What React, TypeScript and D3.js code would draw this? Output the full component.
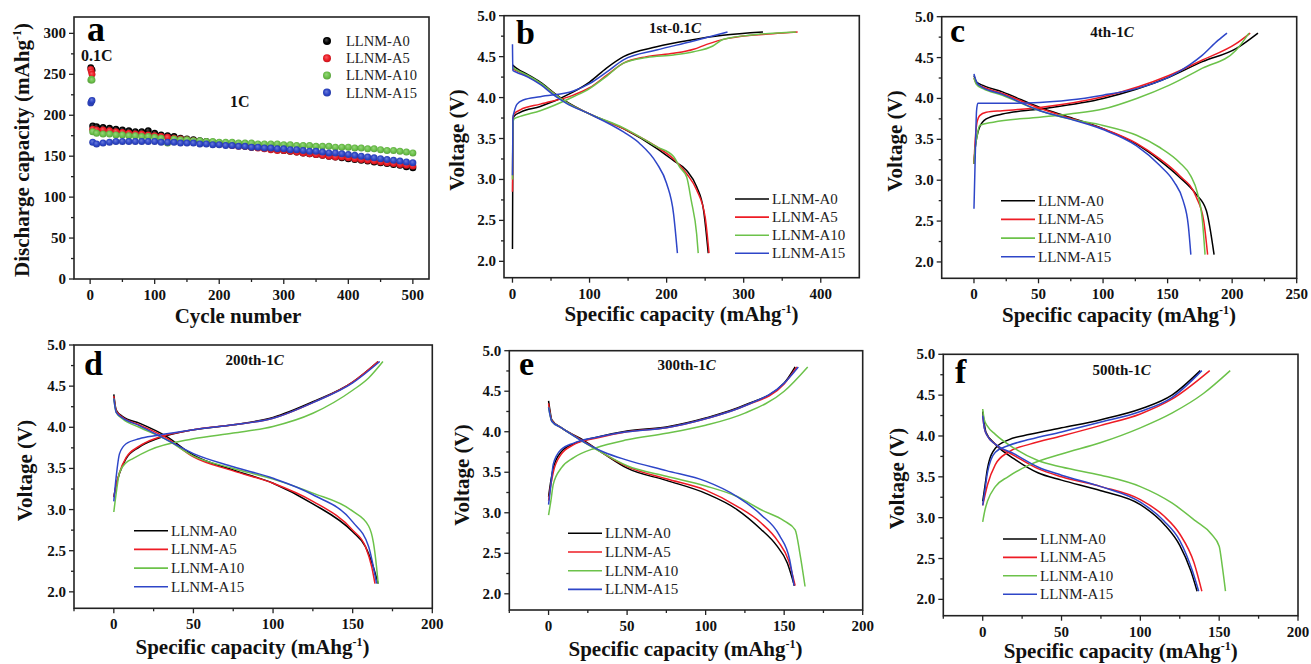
import React from 'react';
import * as d3 from 'd3';

const FONT = '"Liberation Serif","Times New Roman",serif';
const SERIES = ['LLNM-A0', 'LLNM-A5', 'LLNM-A10', 'LLNM-A15'];
const COLORS = ['#000000', '#ee1c25', '#6cc24a', '#2e46c8'];

// ---------- Panel a: cycling data ----------
const cycles01C = [1, 2, 3];
const first01C_A0 = [258, 256, 255];
const first01C_A5 = [256, 253, 250];
const first01C_A10 = [243, 244, 243];
const first01C_A15 = [215, 217, 218];

const cycles1C = [4, 10, 20, 30, 40, 50, 60, 70, 80, 90, 100, 110, 120, 130, 140, 150, 160, 170, 180, 190, 200,
  210, 220, 230, 240, 250, 260, 270, 280, 290, 300, 310, 320, 330, 340, 350, 360, 370, 380, 390, 400,
  410, 420, 430, 440, 450, 460, 470, 480, 490, 500];
const cap1C_A0 = [187, 186, 185, 184, 183, 182, 181, 180, 180, 181, 178, 176, 175, 174, 172, 171, 170, 169, 168, 167, 166,
  165, 164, 163, 162, 161, 161, 160, 159, 158, 157, 156, 155, 154, 153, 152, 151, 150, 149, 148, 147,
  146, 145, 144, 143, 142, 141, 140, 139, 137, 136];
const cap1C_A5 = [183, 182, 182, 181, 180, 179, 178, 177, 177, 176, 175, 174, 173, 172, 171, 170, 169, 168, 167, 166, 165,
  164, 163, 162, 162, 161, 160, 159, 158, 157, 157, 156, 155, 154, 153, 152, 151, 150, 149, 149, 148,
  147, 146, 145, 144, 143, 142, 141, 140, 139, 138];
const cap1C_A10 = [180, 178, 177, 177, 176, 176, 175, 175, 174, 174, 173, 172, 166, 171, 170, 170, 169, 169, 168, 168, 167,
  167, 167, 166, 166, 166, 165, 165, 165, 165, 164, 164, 163, 163, 163, 162, 162, 162, 161, 161, 161,
  160, 160, 159, 159, 158, 157, 157, 156, 155, 154];
const cap1C_A15 = [167, 165, 166, 167, 168, 168, 168, 168, 168, 168, 168, 167, 167, 167, 166, 166, 166, 165, 165, 164, 164,
  163, 163, 162, 162, 161, 161, 160, 160, 159, 159, 158, 158, 157, 156, 156, 155, 154, 154, 153, 152,
  151, 150, 149, 148, 147, 146, 145, 144, 143, 142];

// ---------- Panels b-f: [capacity, voltage] ----------
const chargeB = [
  [[0, 2.15], [0.6, 3.72], [2, 3.77], [10, 3.82], [36, 3.89], [79, 4.07], [100, 4.19], [122, 4.36], [144, 4.5], [187, 4.62], [230, 4.7], [273, 4.76], [325, 4.8]],
  [[0, 2.85], [0.6, 3.74], [2, 3.8], [10, 3.85], [36, 3.92], [79, 4.03], [100, 4.12], [122, 4.27], [144, 4.42], [174, 4.5], [209, 4.54], [235, 4.59], [252, 4.65], [278, 4.72], [338, 4.78], [370, 4.8]],
  [[0, 3.0], [0.6, 3.68], [2, 3.74], [10, 3.77], [36, 3.84], [79, 4.01], [100, 4.11], [122, 4.26], [144, 4.42], [174, 4.49], [209, 4.52], [235, 4.56], [260, 4.63], [273, 4.71], [317, 4.77], [368, 4.8]],
  [[0, 3.05], [0.6, 3.76], [2, 3.82], [6, 3.92], [14, 3.97], [36, 4.01], [79, 4.08], [100, 4.17], [122, 4.31], [144, 4.46], [187, 4.58], [230, 4.68], [279, 4.8]],
];
const dischargeB = [
  [[0, 4.4], [5, 4.36], [20, 4.28], [36, 4.19], [55, 4.05], [70, 3.95], [100, 3.8], [144, 3.62], [187, 3.38], [209, 3.23], [226, 3.11], [239, 2.91], [248, 2.62], [254, 2.1]],
  [[0, 4.35], [5, 4.33], [20, 4.26], [36, 4.17], [55, 4.04], [70, 3.94], [100, 3.8], [144, 3.62], [187, 3.4], [209, 3.25], [226, 3.07], [239, 2.87], [250, 2.54], [255, 2.1]],
  [[0, 4.37], [5, 4.34], [20, 4.27], [36, 4.18], [55, 4.04], [70, 3.94], [100, 3.8], [144, 3.63], [187, 3.4], [209, 3.28], [217, 3.15], [226, 3.03], [232, 2.74], [239, 2.33], [241, 2.1]],
  [[0, 4.65], [0.5, 4.33], [5, 4.31], [20, 4.25], [36, 4.16], [55, 4.02], [70, 3.93], [100, 3.8], [144, 3.58], [165, 3.44], [187, 3.2], [200, 2.95], [209, 2.58], [214, 2.1]],
];
const chargeC = [
  [[0, 3.2], [1, 3.4], [2.5, 3.55], [4.4, 3.65], [9.5, 3.75], [22, 3.81], [51, 3.87], [100, 4.0], [151, 4.26], [177, 4.45], [203, 4.61], [220, 4.8]],
  [[0, 3.2], [1, 3.5], [2.5, 3.72], [4.4, 3.79], [9.5, 3.83], [22, 3.85], [51, 3.89], [100, 4.02], [151, 4.28], [177, 4.47], [203, 4.67], [214, 4.8]],
  [[0, 3.2], [1, 3.4], [2.5, 3.55], [4.4, 3.67], [15, 3.71], [51, 3.77], [74, 3.81], [100, 3.87], [126, 4.0], [151, 4.16], [177, 4.37], [203, 4.59], [213, 4.8]],
  [[0, 2.65], [1, 3.3], [2, 3.85], [3, 3.94], [20, 3.94], [51, 3.95], [74, 3.98], [100, 4.04], [126, 4.12], [151, 4.26], [167, 4.41], [177, 4.53], [189, 4.71], [196, 4.8]],
];
const dischargeC = [
  [[0, 4.28], [2, 4.2], [7, 4.16], [22, 4.08], [51, 3.89], [74, 3.77], [100, 3.63], [126, 3.44], [144, 3.24], [159, 3.04], [172, 2.83], [180, 2.63], [186, 2.09]],
  [[0, 4.25], [2, 4.18], [7, 4.14], [22, 4.06], [51, 3.88], [74, 3.76], [100, 3.63], [126, 3.45], [144, 3.26], [159, 3.06], [172, 2.8], [178, 2.5], [181, 2.09]],
  [[0, 4.25], [2, 4.17], [7, 4.12], [22, 4.04], [51, 3.85], [74, 3.75], [100, 3.67], [126, 3.55], [144, 3.4], [159, 3.22], [168, 3.05], [173, 2.85], [177, 2.5], [179, 2.09]],
  [[0, 4.3], [2, 4.2], [5, 4.15], [22, 4.05], [51, 3.85], [74, 3.75], [100, 3.62], [126, 3.42], [144, 3.18], [155, 2.98], [162, 2.75], [166, 2.45], [168, 2.09]],
];
const chargeD = [
  [[0, 3.15], [1.5, 3.3], [3.6, 3.44], [7.7, 3.62], [16, 3.76], [27, 3.86], [50, 3.97], [75, 4.03], [100, 4.12], [125, 4.31], [150, 4.55], [166, 4.8]],
  [[0, 3.15], [1.5, 3.3], [3.6, 3.45], [7.7, 3.63], [16, 3.77], [27, 3.87], [50, 3.97], [75, 4.03], [100, 4.11], [125, 4.3], [150, 4.55], [166, 4.8]],
  [[0, 2.97], [1.5, 3.2], [3.6, 3.45], [7.7, 3.57], [12, 3.62], [22, 3.72], [50, 3.86], [75, 3.93], [100, 4.01], [125, 4.17], [150, 4.45], [160, 4.6], [169, 4.8]],
  [[0, 3.1], [1.5, 3.4], [3.6, 3.68], [7.7, 3.8], [16, 3.86], [27, 3.9], [50, 3.97], [75, 4.03], [100, 4.11], [125, 4.3], [150, 4.54], [167, 4.8]],
];
const dischargeD = [
  [[0, 4.4], [1.5, 4.21], [5.6, 4.13], [16, 4.05], [33, 3.89], [50, 3.66], [75, 3.48], [100, 3.32], [125, 3.07], [150, 2.73], [158, 2.55], [163, 2.3], [166, 2.1]],
  [[0, 4.38], [1.5, 4.2], [5.6, 4.12], [16, 4.03], [33, 3.87], [50, 3.64], [75, 3.47], [100, 3.32], [125, 3.1], [150, 2.75], [158, 2.55], [162, 2.3], [164, 2.1]],
  [[0, 4.35], [1.5, 4.18], [5.6, 4.1], [16, 4.0], [33, 3.85], [50, 3.65], [75, 3.5], [100, 3.37], [125, 3.2], [150, 2.98], [160, 2.8], [163, 2.6], [165, 2.3], [166, 2.1]],
  [[0, 4.35], [1.5, 4.18], [5, 4.12], [16, 4.02], [33, 3.85], [50, 3.68], [75, 3.52], [100, 3.38], [125, 3.18], [150, 2.85], [160, 2.55], [165, 2.1]],
];
const chargeE = [
  [[0, 3.2], [1.5, 3.4], [3, 3.55], [8, 3.75], [16, 3.85], [30, 3.93], [50, 4.01], [75, 4.06], [100, 4.17], [125, 4.33], [150, 4.6], [157, 4.8]],
  [[0, 3.15], [1.5, 3.35], [3, 3.5], [8, 3.72], [16, 3.84], [30, 3.92], [50, 4.0], [75, 4.05], [100, 4.16], [125, 4.32], [150, 4.59], [158, 4.8]],
  [[0, 2.97], [1.5, 3.15], [3, 3.35], [8, 3.55], [16, 3.68], [30, 3.8], [50, 3.9], [75, 3.98], [100, 4.08], [125, 4.23], [150, 4.5], [165, 4.8]],
  [[0, 3.1], [1.5, 3.35], [3, 3.6], [8, 3.78], [16, 3.86], [30, 3.93], [50, 4.0], [75, 4.05], [100, 4.16], [125, 4.32], [150, 4.6], [159, 4.8]],
];
const dischargeE = [
  [[0, 4.38], [1, 4.25], [2, 4.15], [8, 4.05], [20, 3.92], [35, 3.73], [50, 3.55], [75, 3.4], [100, 3.24], [120, 3.04], [135, 2.8], [145, 2.6], [152, 2.38], [156.5, 2.1]],
  [[0, 4.35], [1, 4.22], [2, 4.14], [8, 4.05], [20, 3.91], [35, 3.73], [50, 3.57], [75, 3.42], [100, 3.28], [120, 3.08], [135, 2.88], [146, 2.65], [153, 2.4], [157, 2.1]],
  [[0, 4.3], [1, 4.2], [2, 4.13], [8, 4.05], [20, 3.9], [35, 3.73], [50, 3.58], [75, 3.45], [100, 3.33], [120, 3.2], [135, 3.04], [150, 2.9], [157, 2.79], [160, 2.5], [163.3, 2.09]],
  [[0, 4.3], [1, 4.2], [2, 4.13], [8, 4.05], [20, 3.9], [35, 3.75], [50, 3.65], [75, 3.52], [100, 3.39], [120, 3.2], [135, 2.98], [147, 2.72], [153.5, 2.42], [156.3, 2.1]],
];
const chargeF = [
  [[0, 3.2], [1.5, 3.4], [3, 3.6], [8, 3.85], [16, 3.95], [30, 4.02], [50, 4.1], [75, 4.2], [100, 4.33], [120, 4.5], [138, 4.8]],
  [[0, 3.15], [1.5, 3.28], [3, 3.4], [8, 3.65], [16, 3.8], [30, 3.9], [50, 4.0], [75, 4.13], [100, 4.27], [120, 4.45], [144, 4.8]],
  [[0, 2.95], [1.5, 3.1], [3, 3.2], [8, 3.38], [16, 3.5], [30, 3.65], [50, 3.78], [75, 3.92], [100, 4.1], [120, 4.28], [140, 4.52], [157, 4.8]],
  [[0, 3.15], [1.5, 3.35], [3, 3.55], [8, 3.8], [16, 3.88], [30, 3.96], [50, 4.05], [75, 4.17], [100, 4.3], [120, 4.47], [139, 4.8]],
];
const dischargeF = [
  [[0, 4.3], [1, 4.15], [2, 4.05], [8, 3.9], [20, 3.72], [35, 3.55], [50, 3.46], [75, 3.33], [100, 3.16], [115, 2.92], [125, 2.66], [132, 2.35], [136, 2.1]],
  [[0, 4.25], [1, 4.1], [3, 4.0], [8, 3.9], [20, 3.76], [35, 3.6], [50, 3.5], [75, 3.38], [100, 3.22], [115, 3.02], [125, 2.8], [134, 2.45], [139, 2.1]],
  [[0, 4.33], [1, 4.2], [3, 4.12], [8, 4.02], [20, 3.85], [35, 3.7], [50, 3.62], [75, 3.52], [100, 3.38], [120, 3.18], [135, 2.96], [145, 2.8], [150, 2.65], [152, 2.4], [154, 2.1]],
  [[0, 4.25], [1, 4.1], [3, 4.0], [8, 3.9], [20, 3.78], [35, 3.62], [50, 3.52], [75, 3.38], [100, 3.19], [115, 2.96], [125, 2.72], [133, 2.35], [137, 2.1]],
];

// tick values
const yTicksV = [2.0, 2.5, 3.0, 3.5, 4.0, 4.5, 5.0];
const yMinorV = [2.25, 2.75, 3.25, 3.75, 4.25, 4.75];
const xTicksA = [0, 100, 200, 300, 400, 500];
const xMinorA = [50, 150, 250, 350, 450];
const yTicksA = [0, 50, 100, 150, 200, 250, 300];
const yMinorA = [25, 75, 125, 175, 225, 275];
const xTicksB = [0, 100, 200, 300, 400];
const xMinorB = [50, 150, 250, 350];
const xTicksC = [0, 50, 100, 150, 200, 250];
const xMinorC = [25, 75, 125, 175, 225];
const xTicks200 = [0, 50, 100, 150, 200];
const xMinor200 = [-25, 25, 75, 125, 175];

type Box = { l: number; t: number; r: number; b: number };

const AX = '#222';

function Frame(props: any) {
  const { box, x, y, xMajor, xMinor, yMajor, yMinor, yFmt, xTitle, xTitleX, xTitleY, yTitle, yTitleX, yTitleY } = props;
  const tickStyle = { stroke: AX, strokeWidth: 1.3 };
  return (
    <g>
      {xMajor.map((v: number) => (
        <g key={'xM' + v}>
          <line x1={x(v)} x2={x(v)} y1={box.b} y2={box.b + 5} {...tickStyle} />
          <text x={x(v)} y={box.b + 21} textAnchor="middle" fontFamily={FONT} fontWeight="bold" fontSize={15} fill="#111">{v}</text>
        </g>
      ))}
      {xMinor.map((v: number) => (
        <line key={'xm' + v} x1={x(v)} x2={x(v)} y1={box.b} y2={box.b + 3} {...tickStyle} />
      ))}
      {yMajor.map((v: number) => (
        <g key={'yM' + v}>
          <line x1={box.l - 5} x2={box.l} y1={y(v)} y2={y(v)} {...tickStyle} />
          <text x={box.l - 8} y={y(v) + 5} textAnchor="end" fontFamily={FONT} fontWeight="bold" fontSize={15} fill="#111">{yFmt(v)}</text>
        </g>
      ))}
      {yMinor.map((v: number) => (
        <line key={'ym' + v} x1={box.l - 3} x2={box.l} y1={y(v)} y2={y(v)} {...tickStyle} />
      ))}
      <text x={xTitleX} y={xTitleY} textAnchor="middle" fontFamily={FONT} fontWeight="bold" fontSize={21} fill="#111">
        {xTitle}
      </text>
      <text transform={`translate(${yTitleX},${yTitleY}) rotate(-90)`} textAnchor="middle" fontFamily={FONT} fontWeight="bold" fontSize={21} fill="#111">
        {yTitle}
      </text>
    </g>
  );
}

const capTitle = (
  <>
    Specific capacity (mAhg<tspan dy={-8} fontSize={12}>-1</tspan><tspan dy={8}>)</tspan>
  </>
);

function VoltagePanel(props: any) {
  const { box, xDomain, xMajor, xMinor, charge, discharge, letter, letterX, letterY, title, titleX, titleY,
    legX, legY, legStep, xTitleX, xTitleY, yTitleX, yTitleY } = props;
  const x = d3.scaleLinear().domain(xDomain).range([box.l, box.r]);
  const y = d3.scaleLinear().domain([1.8, 5.0]).range([box.b, box.t]);
  const line = d3.line<number[]>().x((d) => x(d[0])).y((d) => y(d[1])).curve(d3.curveMonotoneX);
  const clipId = 'clip' + letter;
  return (
    <g>
      <defs>
        <clipPath id={clipId}><rect x={box.l} y={box.t} width={box.r - box.l} height={box.b - box.t} /></clipPath>
      </defs>
      <g clipPath={`url(#${clipId})`}>
        {[0, 1, 2, 3].map((i) => (
          <g key={i}>
            <path d={line(charge[i]) || ''} fill="none" stroke={COLORS[i]} strokeWidth={1.5} />
            <path d={line(discharge[i]) || ''} fill="none" stroke={COLORS[i]} strokeWidth={1.5} />
          </g>
        ))}
      </g>
      <rect x={box.l} y={box.t} width={box.r - box.l} height={box.b - box.t} fill="none" stroke={AX} strokeWidth={1.6} />
      <Frame box={box} x={x} y={y} xMajor={xMajor} xMinor={xMinor} yMajor={yTicksV} yMinor={yMinorV}
        yFmt={d3.format('.1f')} xTitle={capTitle} xTitleX={xTitleX} xTitleY={xTitleY}
        yTitle="Voltage (V)" yTitleX={yTitleX} yTitleY={yTitleY} />
      <text x={letterX} y={letterY} fontFamily={FONT} fontWeight="bold" fontSize={34} fill="#000">{letter}</text>
      <text x={titleX} y={titleY} textAnchor="middle" fontFamily={FONT} fontWeight="bold" fontSize={15} fill="#111">
        {title}<tspan fontStyle="italic">C</tspan>
      </text>
      {SERIES.map((s, i) => (
        <g key={s}>
          <line x1={legX} x2={legX + 34} y1={legY + i * legStep} y2={legY + i * legStep} stroke={COLORS[i]} strokeWidth={1.6} />
          <text x={legX + 37} y={legY + i * legStep + 5} fontFamily={FONT} fontSize={15} fill="#222">{s}</text>
        </g>
      ))}
    </g>
  );
}

function PanelA() {
  const box: Box = { l: 74, t: 17, r: 429, b: 279 };
  const x = d3.scaleLinear().domain([-25, 525]).range([box.l, box.r]);
  const y = d3.scaleLinear().domain([0, 320]).range([box.b, box.t]);
  const first = [first01C_A0, first01C_A5, first01C_A10, first01C_A15];
  const later = [cap1C_A0, cap1C_A5, cap1C_A10, cap1C_A15];
  const yTitle = (
    <>
      Discharge capacity (mAhg<tspan dy={-8} fontSize={12}>-1</tspan><tspan dy={8}>)</tspan>
    </>
  );
  return (
    <g>
      <defs>
        {COLORS.map((c, i) => (
          <radialGradient key={i} id={'mk' + i} cx="0.5" cy="0.5" r="0.6" fx="0.4" fy="0.35">
            <stop offset="0" stopColor={d3.interpolateRgb(c, '#ffffff')(0.3)} />
            <stop offset="0.55" stopColor={c} />
            <stop offset="1" stopColor={d3.interpolateRgb(c, '#000000')(0.25)} />
          </radialGradient>
        ))}
      </defs>
      {[0, 1, 2, 3].map((i) => (
        <g key={i}>
          {cycles1C.map((c, j) => (
            <circle key={j} cx={x(c)} cy={y(later[i][j])} r={3.5} fill={`url(#mk${i})`} />
          ))}
          {cycles01C.map((c, j) => (
            <circle key={'f' + j} cx={x(c)} cy={y(first[i][j])} r={3.4} fill={`url(#mk${i})`} />
          ))}
        </g>
      ))}
      <rect x={box.l} y={box.t} width={box.r - box.l} height={box.b - box.t} fill="none" stroke={AX} strokeWidth={1.6} />
      <Frame box={box} x={x} y={y} xMajor={xTicksA} xMinor={xMinorA} yMajor={yTicksA} yMinor={yMinorA}
        yFmt={(v: number) => String(v)} xTitle="Cycle number" xTitleX={238} xTitleY={323}
        yTitle={yTitle} yTitleX={29} yTitleY={150} />
      <text x={87} y={41} fontFamily={FONT} fontWeight="bold" fontSize={36} fill="#000">a</text>
      <text x={81} y={61} fontFamily={FONT} fontWeight="bold" fontSize={16} fill="#111">0.1C</text>
      <text x={230} y={107} fontFamily={FONT} fontWeight="bold" fontSize={16} fill="#111">1C</text>
      {SERIES.map((s, i) => (
        <g key={s}>
          <circle cx={327} cy={41 + i * 17.2} r={4} fill={`url(#mk${i})`} />
          <text x={346} y={41 + i * 17.2 + 5} fontFamily={FONT} fontSize={14.5} fill="#222">{s}</text>
        </g>
      ))}
    </g>
  );
}

export default function App() {
  return (
    <svg width={1311} height={664} viewBox="0 0 1311 664" style={{ position: 'absolute', left: 0, top: 0, background: '#fff' }}>
      <rect x={0} y={0} width={1311} height={664} fill="#fff" />
      <PanelA />
      <VoltagePanel box={{ l: 504, t: 15.7, r: 859.3, b: 277.7 }} xDomain={[-11, 450]} xMajor={xTicksB} xMinor={xMinorB}
        charge={chargeB} discharge={dischargeB} letter="b" letterX={516} letterY={44} title="1st-0.1" titleX={675} titleY={33}
        legX={735} legY={199} legStep={18.1} xTitleX={681.5} xTitleY={321} yTitleX={464} yTitleY={140} />
      <VoltagePanel box={{ l: 941.7, t: 16.7, r: 1296.7, b: 278.3 }} xDomain={[-25, 250]} xMajor={xTicksC} xMinor={xMinorC}
        charge={chargeC} discharge={dischargeC} letter="c" letterX={950} letterY={41.7} title="4th-1" titleX={1112} titleY={36.7}
        legX={1001} legY={200.7} legStep={18.7} xTitleX={1119} xTitleY={322} yTitleX={902} yTitleY={141} />
      <VoltagePanel box={{ l: 74, t: 345, r: 432.3, b: 608.3 }} xDomain={[-25, 200]} xMajor={xTicks200} xMinor={xMinor200}
        charge={chargeD} discharge={dischargeD} letter="d" letterX={84} letterY={375} title="200th-1" titleX={254.7} titleY={365}
        legX={134} legY={530.7} legStep={18.7} xTitleX={252.5} xTitleY={654} yTitleX={32} yTitleY={470.5} />
      <VoltagePanel box={{ l: 509.3, t: 350.7, r: 862.7, b: 610 }} xDomain={[-25, 200]} xMajor={xTicks200} xMinor={xMinor200}
        charge={chargeE} discharge={dischargeE} letter="e" letterX={519} letterY={375} title="300th-1" titleX={686.7} titleY={370}
        legX={568} legY={533.3} legStep={18.7} xTitleX={685.5} xTitleY={656} yTitleX={469} yTitleY={475} />
      <VoltagePanel box={{ l: 943.3, t: 354.3, r: 1298, b: 615.7 }} xDomain={[-25, 200]} xMajor={xTicks200} xMinor={xMinor200}
        charge={chargeF} discharge={dischargeF} letter="f" letterX={955} letterY={383} title="500th-1" titleX={1121.7} titleY={375}
        legX={1003} legY={539} legStep={18.4} xTitleX={1120.7} xTitleY={658} yTitleX={904} yTitleY={478.5} />
    </svg>
  );
}
